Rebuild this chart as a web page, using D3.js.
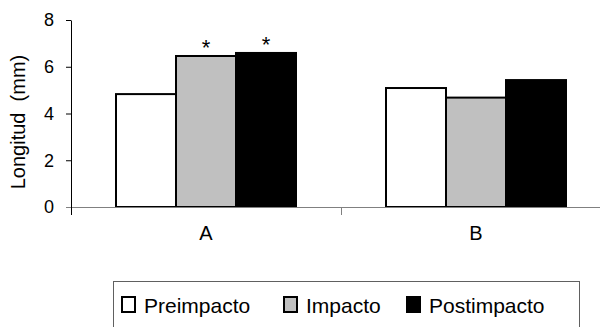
<!DOCTYPE html>
<html>
<head>
<meta charset="utf-8">
<script src="https://cdn.jsdelivr.net/npm/d3@7"></script>
<style>
  html, body { margin: 0; padding: 0; background: #fff; }
  svg { display: block; font-family: "Liberation Sans", Arial, sans-serif; }
</style>
</head>
<body>
<div id="chart"></div>
<script>
const categories = ['A', 'B'];
const seriesNames = ['Preimpacto', 'Impacto', 'Postimpacto'];
const preimpacto = [4.83, 5.09];
const impacto = [6.46, 4.68];
const postimpacto = [6.59, 5.43];
const yTicks = [0, 2, 4, 6, 8];
// asterisks over significant bars: [category, series]
const marked = [['A', 'Impacto'], ['A', 'Postimpacto']];

const seriesValues = [preimpacto, impacto, postimpacto];
const colors = ['#ffffff', '#c0c0c0', '#000000'];

const width = 600, height = 327;
const plotLeft = 71, plotTop = 20, plotBottom = 207, plotRight = 611;

const svg = d3.select('#chart')
  .append('svg')
  .attr('width', width)
  .attr('height', height);

const x = d3.scaleBand().domain(categories).range([plotLeft, plotRight]).padding(0);
const xInner = d3.scaleBand().domain(seriesNames).range([45, 225]).padding(0);
const y = d3.scaleLinear().domain([0, 8]).range([plotBottom, plotTop]);

const rows = [];
categories.forEach((c, ci) => {
  seriesNames.forEach((s, si) => {
    rows.push({ cat: c, series: s, value: seriesValues[si][ci], color: colors[si] });
  });
});

// bars
svg.append('g')
  .selectAll('rect')
  .data(rows)
  .enter()
  .append('rect')
  .attr('x', d => x(d.cat) + xInner(d.series))
  .attr('y', d => y(d.value))
  .attr('width', xInner.bandwidth())
  .attr('height', d => y(0) - y(d.value))
  .attr('fill', d => d.color)
  .attr('stroke', '#000')
  .attr('stroke-width', 2);

// asterisks
svg.append('g')
  .selectAll('text')
  .data(rows.filter(r => marked.some(m => m[0] === r.cat && m[1] === r.series)))
  .enter()
  .append('text')
  .attr('x', d => x(d.cat) + xInner(d.series) + xInner.bandwidth() / 2)
  .attr('y', d => y(d.value) - 1)
  .attr('text-anchor', 'middle')
  .style('font-size', '22px')
  .text('*');

// y axis
const yAxis = svg.append('g')
  .attr('transform', `translate(${plotLeft},0)`)
  .call(d3.axisLeft(y).tickValues(yTicks).tickSize(5).tickPadding(12).tickSizeOuter(0));
yAxis.select('.domain').attr('stroke', '#000');
yAxis.selectAll('text').style('font-size', '18px').attr('fill', '#000');

// x axis
const xAxis = svg.append('g')
  .attr('transform', `translate(0,${plotBottom})`)
  .call(d3.axisBottom(x).tickSize(0).tickSizeOuter(0).tickPadding(19));
xAxis.select('.domain').attr('stroke', '#808080').attr('d', `M${plotLeft - 5},0.5H${plotRight}`);
xAxis.selectAll('text').style('font-size', '20px').attr('fill', '#000').attr('dy', '0.71em');

// category boundary ticks
svg.append('g')
  .selectAll('line')
  .data([plotLeft, ...categories.map(c => x(c) + x.bandwidth())])
  .enter()
  .append('line')
  .attr('x1', d => d + 0.5)
  .attr('x2', d => d + 0.5)
  .attr('y1', plotBottom)
  .attr('y2', plotBottom + 8)
  .attr('stroke', (d, i) => i === 0 ? '#000' : '#808080');

// y label
svg.append('text')
  .attr('transform', 'translate(25,122) rotate(-90)')
  .attr('text-anchor', 'middle')
  .style('font-size', '20px')
  .style('white-space', 'pre')
  .text('Longitud  (mm)');

// legend
const legend = svg.append('g');
legend.append('rect')
  .attr('x', 113.5).attr('y', 281.5)
  .attr('width', 466).attr('height', 60)
  .attr('fill', 'none').attr('stroke', '#606060');

const legendX = [122, 284, 407];
const item = legend.selectAll('g.item')
  .data(seriesNames)
  .enter()
  .append('g')
  .attr('class', 'item')
  .attr('transform', (d, i) => `translate(${legendX[i]},0)`);
item.append('rect')
  .attr('x', 0).attr('y', 297)
  .attr('width', 13).attr('height', 15)
  .attr('fill', (d, i) => colors[i])
  .attr('stroke', '#000').attr('stroke-width', 2);
item.append('text')
  .attr('x', 22).attr('y', 313)
  .style('font-size', '21px')
  .text(d => d);
</script>
</body>
</html>
